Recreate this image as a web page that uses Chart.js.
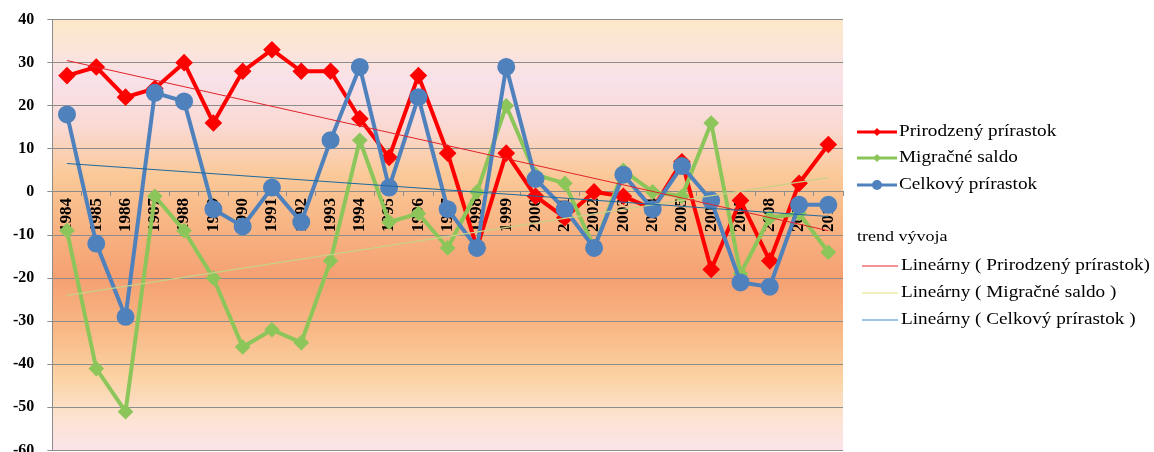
<!DOCTYPE html>
<html>
<head>
<meta charset="utf-8">
<script src="https://cdn.jsdelivr.net/npm/chart.js@4/dist/chart.umd.min.js"></script>
<style>
  html, body { margin: 0; padding: 0; background: #fff; }
  #wrap { width: 1154px; height: 452px; overflow: hidden; }
  #chart { display: block; margin-top: -3px; }
</style>
</head>
<body>
<div id="wrap"><canvas id="chart" width="1154" height="476"></canvas></div>
<script>
// data
const years = ['1984','1985','1986','1987','1988','1989','1990','1991','1992','1993','1994','1995','1996','1997','1998','1999','2000','2001','2002','2003','2004','2005','2006','2007','2008','2009','2010'];
const prirodzeny = [27, 29, 22, 24, 30, 16, 28, 33, 28, 28, 17, 8, 27, 9, -13, 9, -1, -6, 0, -1, -4, 7, -18, -2, -16, 2, 11];
const migracne = [-9, -41, -51, -1, -9, -20, -36, -32, -35, -16, 12, -7, -5, -13, 0, 20, 4, 2, -13, 5, 0, -1, 16, -19, -6, -5, -14];
const celkovy = [18, -12, -29, 23, 21, -4, -8, 1, -7, 12, 29, 1, 22, -4, -13, 29, 3, -4, -13, 4, -4, 6, -2, -21, -22, -3, -3];

// linear trend lines: value at first and last year
const trendStart = [30.5, -24, 6.6];
const trendEnd = [-9, 3.3, -5.7];

const seriesNames = ['Prirodzený prírastok', 'Migračné saldo', 'Celkový prírastok'];
const trendNames = ['Lineárny ( Prirodzený prírastok)', 'Lineárny ( Migračné saldo )', 'Lineárny ( Celkový prírastok )'];

function trendData(i) {
    return years.map(function (y, k) {
        if (k === 0) return trendStart[i];
        if (k === years.length - 1) return trendEnd[i];
        return null;
    });
}

// background gradient of the plot area
var bgPlugin = {
    id: 'bg',
    beforeDraw: function (chart) {
        var a = chart.chartArea, ctx = chart.ctx;
        var g = ctx.createLinearGradient(0, a.top, 0, a.bottom);
        g.addColorStop(0.00, '#fde8c9');
        g.addColorStop(0.14, '#f9e1e9');
        g.addColorStop(0.25, '#fad9d3');
        g.addColorStop(0.36, '#fbc999');
        g.addColorStop(0.48, '#f8b483');
        g.addColorStop(0.60, '#f5a072');
        g.addColorStop(0.72, '#f8b886');
        g.addColorStop(0.83, '#fbd2a3');
        g.addColorStop(0.92, '#fce3d0');
        g.addColorStop(1.00, '#fbe4ea');
        ctx.save();
        ctx.fillStyle = g;
        ctx.fillRect(a.left, a.top, a.right - a.left, a.bottom - a.top);
        ctx.restore();
    }
};

// text a bit wider than the font, like the stretched original
function wideText(ctx, text, x, y) {
    ctx.save();
    ctx.translate(x, y);
    ctx.scale(1.2, 1);
    ctx.fillText(text, 0, 0);
    ctx.restore();
}

// legend on the right side, two groups (canvas is shifted up by 3px)
var legendPlugin = {
    id: 'sideLegend',
    afterDraw: function (chart) {
        var ctx = chart.ctx;
        var ds = chart.data.datasets;
        var dy = 3;
        ctx.save();
        ctx.font = '16px "Liberation Serif", serif';
        ctx.textBaseline = 'middle';
        ctx.fillStyle = '#000';
        var rows = [132, 158, 185];
        for (var i = 0; i < 3; i++) {
            var y = rows[i] + dy;
            ctx.strokeStyle = ds[i].borderColor;
            ctx.lineWidth = 3;
            ctx.beginPath();
            ctx.moveTo(857, y);
            ctx.lineTo(897, y);
            ctx.stroke();
            ctx.fillStyle = ds[i].backgroundColor;
            var r = 4;
            ctx.beginPath();
            if (ds[i].pointStyle === 'circle') {
                ctx.arc(877, y, r + 1, 0, Math.PI * 2);
            } else {
                ctx.moveTo(877, y - r); ctx.lineTo(877 + r, y);
                ctx.lineTo(877, y + r); ctx.lineTo(877 - r, y);
                ctx.closePath();
            }
            ctx.fill();
            ctx.fillStyle = '#000';
            wideText(ctx, ds[i].label, 899, y);
        }
        ctx.font = '15px "Liberation Serif", serif';
        wideText(ctx, 'trend vývoja', 857, 237 + dy);
        ctx.font = '16px "Liberation Serif", serif';
        var trows = [266, 293, 320];
        for (var j = 0; j < 3; j++) {
            var t = ds[3 + j];
            var ty = trows[j] + dy;
            ctx.strokeStyle = t.legendColor;
            ctx.lineWidth = 1.2;
            ctx.beginPath();
            ctx.moveTo(862, ty);
            ctx.lineTo(898, ty);
            ctx.stroke();
            wideText(ctx, t.label, 901, ty);
        }
        ctx.restore();
    }
};

var ctx = document.getElementById('chart').getContext('2d');
new Chart(ctx, {
    type: 'line',
    data: {
        labels: years,
        datasets: [
            {
                label: seriesNames[0],
                data: prirodzeny,
                borderColor: '#ff0000',
                backgroundColor: '#ff0000',
                borderWidth: 4,
                pointStyle: 'rectRot',
                pointRadius: 6,
                tension: 0,
                order: 5
            },
            {
                label: seriesNames[1],
                data: migracne,
                borderColor: '#8cc65a',
                backgroundColor: '#8cc65a',
                borderWidth: 4,
                pointStyle: 'rectRot',
                pointRadius: 5,
                tension: 0,
                order: 4
            },
            {
                label: seriesNames[2],
                data: celkovy,
                borderColor: '#4f81bd',
                backgroundColor: '#4f81bd',
                borderWidth: 4,
                pointStyle: 'circle',
                pointRadius: 7,
                tension: 0,
                order: 3
            },
            {
                label: trendNames[0],
                data: trendData(0),
                borderColor: '#e0232a',
                legendColor: '#e8282e',
                borderWidth: 1,
                pointRadius: 0,
                spanGaps: true,
                order: 1
            },
            {
                label: trendNames[1],
                data: trendData(1),
                borderColor: '#c8d08a',
                legendColor: '#e6e27a',
                borderWidth: 1.2,
                pointRadius: 0,
                spanGaps: true,
                order: 2
            },
            {
                label: trendNames[2],
                data: trendData(2),
                borderColor: '#1c6aa0',
                legendColor: '#3c8fcf',
                borderWidth: 1.2,
                pointRadius: 0,
                spanGaps: true,
                order: 0
            }
        ]
    },
    options: {
        responsive: false,
        animation: false,
        layout: { padding: { top: 6, right: 311, left: 0, bottom: 0 } },
        plugins: {
            legend: { display: false },
            tooltip: { enabled: false }
        },
        scales: {
            x: {
                position: { y: 0 },
                offset: true,
                grid: {
                    display: true,
                    drawOnChartArea: false,
                    drawTicks: true,
                    tickLength: 4,
                    offset: true,
                    color: '#8c8c8c'
                },
                border: { color: '#8c8c8c' },
                ticks: {
                    autoSkip: false,
                    minRotation: 90,
                    maxRotation: 90,
                    padding: 2,
                    color: '#000',
                    font: { family: '"Liberation Serif", serif', size: 17, weight: 'bold' }
                }
            },
            y: {
                min: -60,
                max: 40,
                ticks: {
                    stepSize: 10,
                    padding: 13,
                    color: '#000',
                    font: { family: '"Liberation Serif", serif', size: 16, weight: 'bold' }
                },
                grid: {
                    color: '#8c8c8c',
                    tickLength: 5,
                    lineWidth: 1
                },
                border: { color: '#8c8c8c' }
            }
        }
    },
    plugins: [bgPlugin, legendPlugin]
});
</script>
</body>
</html>
